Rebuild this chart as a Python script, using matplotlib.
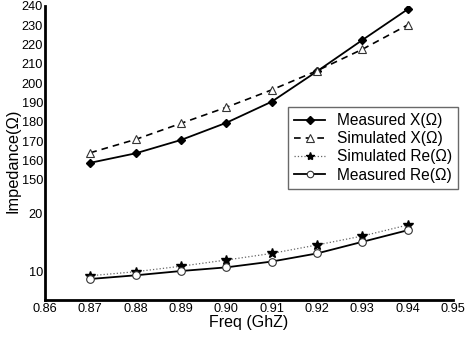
import numpy as np
import matplotlib
matplotlib.use("Agg")
import matplotlib.pyplot as plt

plt.rcParams['font.family'] = ['Liberation Sans', 'DejaVu Sans']

freq = [0.87, 0.88, 0.89, 0.90, 0.91, 0.92, 0.93, 0.94]
measured_x = [158.9, 163.8, 170.7, 179.6, 190.5, 206.2, 222.4, 238.3]
simulated_x = [164.1, 171.0, 179.3, 187.6, 196.6, 206.5, 217.6, 230.2]
simulated_re = [9.36, 10.05, 11.0, 12.07, 13.2, 14.66, 16.2, 18.1]
measured_re = [8.8, 9.43, 10.17, 10.8, 11.8, 13.2, 15.2, 17.2]

x_ticks = [0.86, 0.87, 0.88, 0.89, 0.90, 0.91, 0.92, 0.93, 0.94, 0.95]
y_ticks = [10, 20, 150, 160, 170, 180, 190, 200, 210, 220, 230, 240]

# broken (piecewise linear) y scale
V = np.array([0.0, 10.0, 20.0, 150.0, 240.0])
T = np.array([-30.0, 28.0, 86.0, 120.0, 294.0])


def fwd(v):
    return np.interp(v, V, T)


def inv(t):
    return np.interp(t, T, V)


W, H = 473, 339
fig = plt.figure(figsize=(W / 100, H / 100), dpi=100)
ax = fig.add_axes([45 / W, 39 / H, 408 / W, 294 / H])
ax.set_yscale('function', functions=(fwd, inv))

ax.plot(freq, measured_x, color='black', lw=1.3, marker='D', ms=4.5,
        mfc='black', mec='black', label='Measured X(Ω)')
ax.plot(freq, simulated_x, color='black', lw=1.2, dashes=(4, 3), marker='^',
        ms=6, mfc='white', mec='#333333', mew=0.8, label='Simulated X(Ω)')
ax.plot(freq, simulated_re, color='#666666', lw=0.9, ls=':', marker='*',
        ms=7, mfc='black', mec='black', label='Simulated Re(Ω)')
ax.plot(freq, measured_re, color='black', lw=1.3, marker='o', ms=5.5,
        mfc='white', mec='#333333', mew=0.8, label='Measured Re(Ω)')

ax.set_xlim(0.86, 0.95)
ax.set_ylim(inv(0.0), 240)
ax.set_xticks(x_ticks)
ax.set_xticklabels([f"{v:.2f}" for v in x_ticks])
ax.set_yticks(y_ticks)
ax.set_yticklabels([str(v) for v in y_ticks])
ax.minorticks_off()
ax.tick_params(axis='both', length=0, labelsize=9.2)
ax.tick_params(axis='y', pad=1.5)
ax.tick_params(axis='x', pad=2)

for s in ['top', 'right']:
    ax.spines[s].set_visible(False)
for s in ['left', 'bottom']:
    ax.spines[s].set_linewidth(2)
    ax.spines[s].set_color('black')

fig.text(249 / W, 1 - 322 / H, 'Freq (GhZ)', ha='center', va='center', fontsize=11.5)
fig.text(13 / W, 1 - 161 / H, 'Impedance(Ω)', ha='center', va='center',
         rotation=90, fontsize=11.8)

leg = ax.legend(loc='upper left', bbox_to_anchor=(288 / W, 1 - 107 / H),
                bbox_transform=fig.transFigure, fontsize=11.2, frameon=True,
                fancybox=False, borderaxespad=0, handlelength=2.0,
                handletextpad=0.75, labelspacing=0.2, borderpad=0.4,
                markerscale=0.85)
leg.get_frame().set_edgecolor('#444444')
leg.get_frame().set_linewidth(1.0)

fig.savefig('out.png', dpi=100)
